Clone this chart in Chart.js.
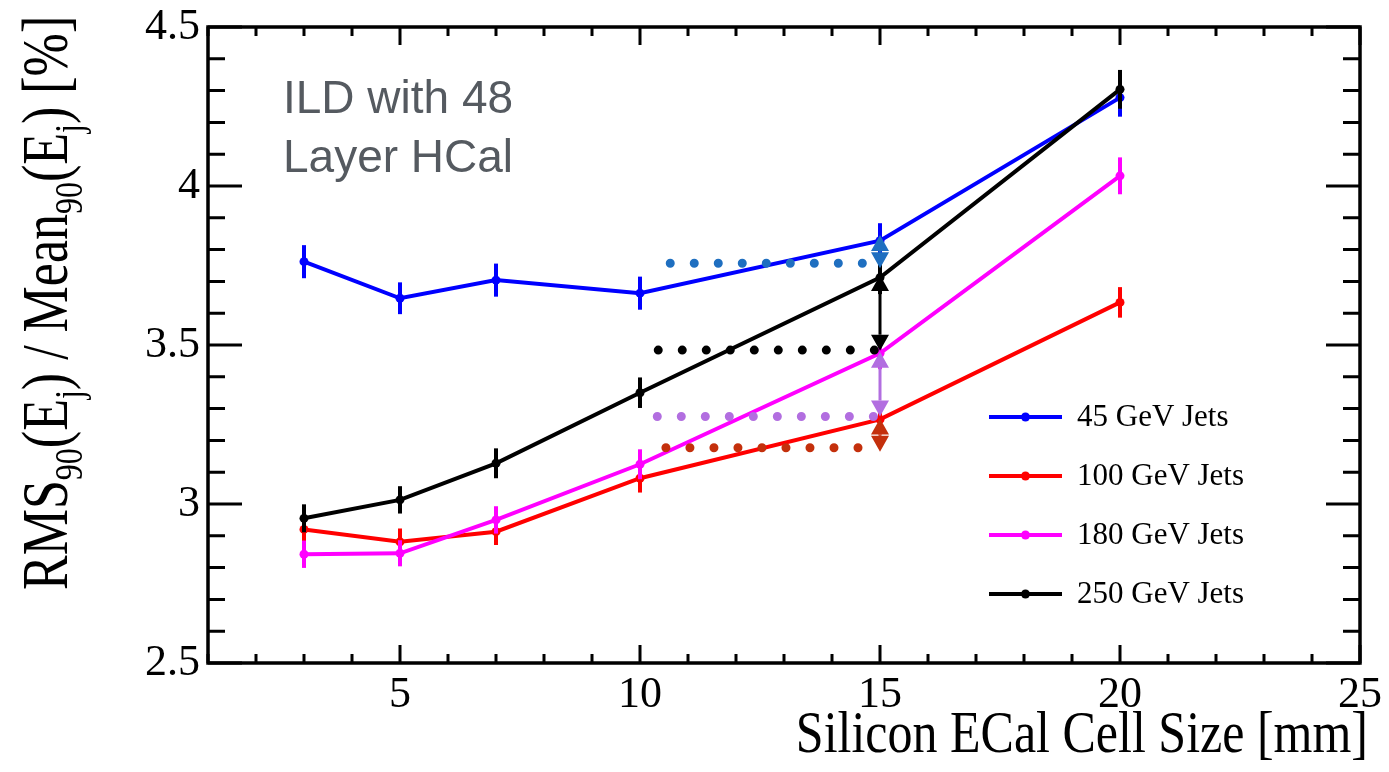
<!DOCTYPE html>
<html>
<head>
<meta charset="utf-8">
<title>Jet energy resolution vs ECal cell size</title>
<script src="https://cdn.jsdelivr.net/npm/chart.js@4.4.1/dist/chart.umd.min.js"></script>
<style>
    html, body { margin: 0; padding: 0; background: #ffffff; }
    #wrap { width: 1389px; height: 772px; }
</style>
</head>
<body>
<div id="wrap"><canvas id="resChart"></canvas></div>
<script>

// =========================================
// Data
// =========================================

const cellSizes = [3, 5, 7, 10, 15, 20];

const seriesNames = ["45 GeV Jets", "100 GeV Jets", "180 GeV Jets", "250 GeV Jets"];

const jets45  = [3.762, 3.647, 3.704, 3.663, 3.828, 4.278];
const jets100 = [2.920, 2.881, 2.913, 3.081, 3.266, 3.634];
const jets180 = [2.842, 2.845, 2.950, 3.125, 3.474, 4.032];
const jets250 = [2.955, 3.013, 3.128, 3.350, 3.712, 4.304];

const err45  = [0.052, 0.050, 0.052, 0.052, 0.055, 0.060];
const err100 = [0.043, 0.042, 0.042, 0.045, 0.047, 0.048];
const err180 = [0.043, 0.041, 0.043, 0.047, 0.050, 0.058];
const err250 = [0.044, 0.043, 0.047, 0.048, 0.052, 0.061];

// dotted reference levels and the arrows at 15 mm
const refStart = [10.63, 10.38, 10.36, 10.54];
const refEnd = 14.9;
const refLevel = [3.757, 3.484, 3.275, 3.177];

const arrowX = 15;
const arrowTop    = [3.846, 3.720, 3.479, 3.269];
const arrowBottom = [3.741, 3.482, 3.275, 3.164];

const xTickValues = [5, 10, 15, 20, 25];
const xTickLabels = ["5", "10", "15", "20", "25"];
const yTickValues = [2.5, 3, 3.5, 4, 4.5];
const yTickLabels = ["2.5", "3", "3.5", "4", "4.5"];

const seriesValues = [jets45, jets100, jets180, jets250];
const seriesErrors = [err45, err100, err180, err250];
const seriesColors = ["#0000ff", "#ff0000", "#ff00ff", "#000000"];
const refColors = ["#1f6fc0", "#000000", "#b26ee0", "#c4300c"];

const SERIF = "'Liberation Serif', 'Times New Roman', serif";
const SANS = "'Liberation Sans', Arial, sans-serif";


// =========================================
// Datasets
// =========================================

const seriesSets = seriesValues.map((vals, i) => ({
    label: seriesNames[i],
    data: cellSizes.map((x, j) => ({ x: x, y: vals[j] })),
    errors: seriesErrors[i],
    showLine: true,
    borderColor: seriesColors[i],
    backgroundColor: seriesColors[i],
    borderWidth: 4,
    pointRadius: 4.5,
    pointHoverRadius: 4.5,
    pointBorderWidth: 0,
    order: 10 - i
}));

const refSets = refLevel.map((y, i) => ({
    label: "ref" + i,
    data: [{ x: refStart[i], y: y }, { x: refEnd, y: y }],
    showLine: true,
    borderColor: refColors[i],
    borderWidth: 9,
    borderDash: [0.01, 24],
    borderCapStyle: "round",
    pointRadius: 0,
    pointHoverRadius: 0,
    order: 1
}));


// =========================================
// Plugins
// =========================================

// error bars, drawn just before each series
const errorBars = {
    id: "errorBars",
    beforeDatasetDraw(chart, args) {
        const ds = chart.data.datasets[args.index];
        if (!ds.errors) return;
        const { ctx, scales: { x, y } } = chart;
        ctx.save();
        ctx.strokeStyle = ds.borderColor;
        ctx.lineWidth = 4;
        ds.data.forEach((p, j) => {
            const px = x.getPixelForValue(p.x);
            ctx.beginPath();
            ctx.moveTo(px, y.getPixelForValue(p.y + ds.errors[j]));
            ctx.lineTo(px, y.getPixelForValue(p.y - ds.errors[j]));
            ctx.stroke();
        });
        ctx.restore();
    }
};

// frame with inward ticks on all four sides
const frameTicks = {
    id: "frameTicks",
    afterDatasetsDraw(chart) {
        const { ctx, chartArea: a, scales: { x, y } } = chart;
        ctx.save();
        ctx.strokeStyle = "#000";
        ctx.lineWidth = 3;
        ctx.beginPath();
        for (let k = 1; k <= 25; k++) {
            const px = x.getPixelForValue(k);
            const len = k % 5 === 0 ? 18 : 9;
            ctx.moveTo(px, a.bottom); ctx.lineTo(px, a.bottom - len);
            ctx.moveTo(px, a.top); ctx.lineTo(px, a.top + len);
        }
        for (let k = 25; k <= 45; k++) {
            const py = y.getPixelForValue(k / 10);
            const len = k % 5 === 0 ? 34 : 17;
            ctx.moveTo(a.left, py); ctx.lineTo(a.left + len, py);
            ctx.moveTo(a.right, py); ctx.lineTo(a.right - len, py);
        }
        ctx.stroke();
        ctx.lineWidth = 3.5;
        ctx.strokeRect(a.left, a.top, a.right - a.left, a.bottom - a.top);
        ctx.restore();
    }
};

// double-headed arrows at 15 mm
const arrows = {
    id: "arrows",
    afterDatasetsDraw(chart) {
        const { ctx, scales: { x, y } } = chart;
        const px = x.getPixelForValue(arrowX);
        const head = 16, half = 9;
        ctx.save();
        arrowTop.forEach((top, i) => {
            const t = y.getPixelForValue(top);
            const b = y.getPixelForValue(arrowBottom[i]);
            ctx.strokeStyle = refColors[i];
            ctx.fillStyle = refColors[i];
            ctx.lineWidth = 3;
            ctx.beginPath();
            ctx.moveTo(px, t + head);
            ctx.lineTo(px, b - head);
            ctx.stroke();
            ctx.beginPath();
            ctx.moveTo(px, t);
            ctx.lineTo(px - half, t + head);
            ctx.lineTo(px + half, t + head);
            ctx.closePath();
            ctx.moveTo(px, b);
            ctx.lineTo(px - half, b - head);
            ctx.lineTo(px + half, b - head);
            ctx.closePath();
            ctx.fill();
        });
        ctx.restore();
    }
};

// titles, label box and legend
const texts = {
    id: "texts",
    afterDraw(chart) {
        const { ctx, data } = chart;
        ctx.save();
        ctx.fillStyle = "#000";

        // x title
        ctx.save();
        ctx.font = "50px " + SERIF;
        ctx.textAlign = "right";
        ctx.textBaseline = "alphabetic";
        ctx.translate(1368, 752);
        ctx.scale(1, 1.2);
        ctx.fillText("Silicon ECal Cell Size [mm]", 0, 0);
        ctx.restore();

        // y title with subscripts
        const parts = [
            ["RMS", 0], ["90", 1], ["(E", 0], ["j", 1], [") / Mean", 0],
            ["90", 1], ["(E", 0], ["j", 1], [") [%]", 0]
        ];
        ctx.save();
        ctx.translate(67, 590);
        ctx.rotate(-Math.PI / 2);
        ctx.scale(1, 1.25);
        ctx.textBaseline = "alphabetic";
        ctx.textAlign = "left";
        let pos = 0;
        parts.forEach(([txt, sub]) => {
            ctx.font = (sub ? 32 : 52) + "px " + SERIF;
            ctx.fillText(txt, pos, sub ? 12 : 0);
            pos += ctx.measureText(txt).width;
        });
        ctx.restore();

        // label box
        ctx.fillStyle = "#555a60";
        ctx.font = "46px " + SANS;
        ctx.textAlign = "left";
        ctx.fillText("ILD with 48", 283, 113);
        ctx.fillText("Layer HCal", 283, 172);

        // legend
        seriesNames.forEach((name, i) => {
            const ly = 417 + i * 59;
            const ds = data.datasets[i];
            ctx.strokeStyle = ds.borderColor;
            ctx.fillStyle = ds.borderColor;
            ctx.lineWidth = 4;
            ctx.beginPath();
            ctx.moveTo(989, ly);
            ctx.lineTo(1062, ly);
            ctx.stroke();
            ctx.beginPath();
            ctx.arc(1025.5, ly, 4.5, 0, Math.PI * 2);
            ctx.fill();
            ctx.fillStyle = "#000";
            ctx.font = "31px " + SERIF;
            ctx.textBaseline = "middle";
            ctx.fillText(name, 1077, ly + 1);
        });
        ctx.restore();
    }
};


// =========================================
// Chart
// =========================================

const tickFont = { family: SERIF, size: 44 };

function noPad(s) {
    s.paddingTop = 0;
    s.paddingBottom = 0;
    s.paddingLeft = 0;
    s.paddingRight = 0;
}

new Chart(document.getElementById("resChart"), {

    type: "scatter",

    data: {
        datasets: [...seriesSets, ...refSets]
    },

    options: {
        responsive: true,
        maintainAspectRatio: false,
        animation: false,
        events: [],
        layout: {
            padding: { left: 0, right: 29, top: 27, bottom: 0 }
        },
        plugins: {
            legend: { display: false },
            tooltip: { enabled: false }
        },
        scales: {
            x: {
                type: "linear",
                min: 1,
                max: 25,
                afterBuildTicks: (s) => { s.ticks = xTickValues.map(v => ({ value: v })); },
                afterFit: (s) => { s.height = 109; noPad(s); },
                grid: { display: false, drawTicks: false },
                border: { display: false },
                ticks: {
                    autoSkip: false,
                    maxRotation: 0,
                    padding: 6,
                    color: "#000",
                    font: tickFont,
                    callback: (v) => xTickLabels[xTickValues.indexOf(v)]
                }
            },
            y: {
                type: "linear",
                min: 2.5,
                max: 4.5,
                afterBuildTicks: (s) => { s.ticks = yTickValues.map(v => ({ value: v })); },
                afterFit: (s) => { s.width = 208; noPad(s); },
                grid: { display: false, drawTicks: false },
                border: { display: false },
                ticks: {
                    autoSkip: false,
                    padding: 8,
                    color: "#000",
                    font: tickFont,
                    callback: (v) => yTickLabels[yTickValues.indexOf(v)]
                }
            }
        }
    },

    plugins: [errorBars, frameTicks, arrows, texts]

});

</script>
</body>
</html>
